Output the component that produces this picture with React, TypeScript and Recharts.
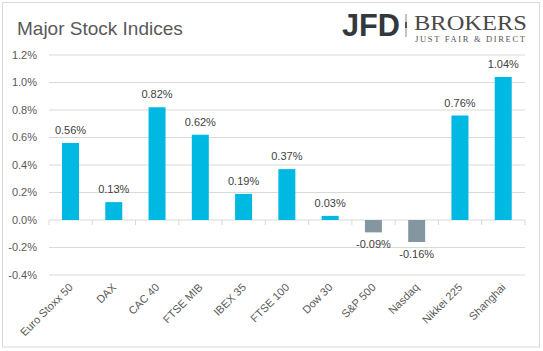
import { BarChart, Bar, XAxis, YAxis, CartesianGrid, Cell, LabelList } from "recharts"

const indices = [
  "Euro Stoxx 50",
  "DAX",
  "CAC 40",
  "FTSE MIB",
  "IBEX 35",
  "FTSE 100",
  "Dow 30",
  "S&P 500",
  "Nasdaq",
  "Nikkei 225",
  "Shanghai",
]
const changes = [0.56, 0.13, 0.82, 0.62, 0.19, 0.37, 0.03, -0.09, -0.16, 0.76, 1.04]
const yTicks = [-0.4, -0.2, 0, 0.2, 0.4, 0.6, 0.8, 1.0, 1.2]

const data = indices.map((name, i) => ({ name, change: changes[i] }))

const W = 543
const H = 351
const TOP = 55
const RIGHT = 18
const Y_AXIS_W = 49
const X_AXIS_H = 76
const Y_MIN = -0.4
const Y_MAX = 1.2

const PLOT_W = W - Y_AXIS_W - RIGHT
const PLOT_H = H - TOP - X_AXIS_H
const BAND = PLOT_W / indices.length
const ZERO_Y = TOP + (PLOT_H * Y_MAX) / (Y_MAX - Y_MIN)

const FONT = "'Liberation Sans', Arial, sans-serif"
const SERIF = "'Liberation Serif', serif"
const POS = "#00B9E3"
const NEG = "#8497A1"
const GRID = "#D9D9D9"

const pct = (v: number, d: number) => `${v.toFixed(d)}%`

// category label plus the little tick marks hanging off the zero line
function CategoryTick(props: any) {
  const { x, y, payload, index } = props
  const left = x - BAND / 2
  return (
    <g>
      <line x1={left} x2={left} y1={ZERO_Y} y2={ZERO_Y + 5} stroke={GRID} />
      {index === indices.length - 1 && (
        <line x1={left + BAND} x2={left + BAND} y1={ZERO_Y} y2={ZERO_Y + 5} stroke={GRID} />
      )}
      <text
        x={x + 3}
        y={y + 13}
        transform={`rotate(-45, ${x + 3}, ${y + 13})`}
        textAnchor="end"
        fontSize={11}
        fontFamily={FONT}
        fill="#595959"
      >
        {payload.value}
      </text>
    </g>
  )
}

function ValueLabel(props: any) {
  const { x, y, width, height, value } = props
  const cx = x + width / 2
  const top = Math.min(y, y + height)
  const bottom = Math.max(y, y + height)
  const ty = value >= 0 ? top - 9 : bottom + 16
  return (
    <text x={cx} y={ty} textAnchor="middle" fontSize={11} fontFamily={FONT} fill="#404040">
      {pct(value, 2)}
    </text>
  )
}

export default function App() {
  return (
    <div style={{ position: "absolute", left: 0, top: 0, width: W, height: H, background: "#fff" }}>
      <BarChart
        width={W}
        height={H}
        data={data}
        margin={{ top: TOP, right: RIGHT, bottom: 0, left: 0 }}
      >
        <CartesianGrid horizontal vertical={false} stroke={GRID} />
        <XAxis
          dataKey="name"
          interval={0}
          height={X_AXIS_H}
          tickLine={false}
          axisLine={false}
          tickSize={0}
          tickMargin={0}
          tick={<CategoryTick />}
        />
        <YAxis
          width={Y_AXIS_W}
          domain={[Y_MIN, Y_MAX]}
          ticks={yTicks}
          tickFormatter={(v: number) => pct(v, 1)}
          tickLine={false}
          axisLine={false}
          tickSize={0}
          tickMargin={12}
          tick={{ fontSize: 11, fontFamily: FONT, fill: "#595959" }}
        />
        <Bar dataKey="change" barSize={17} isAnimationActive={false}>
          {data.map((d) => (
            <Cell key={d.name} fill={d.change >= 0 ? POS : NEG} />
          ))}
          <LabelList dataKey="change" content={<ValueLabel />} />
        </Bar>
      </BarChart>
      <svg
        width={W}
        height={H}
        style={{ position: "absolute", left: 0, top: 0, pointerEvents: "none" }}
      >
        <rect x={2.5} y={2.5} width={537} height={344.5} fill="none" stroke={GRID} />
        <text x={17} y={35} fontSize={19} fontFamily={FONT} fill="#595959">
          Major Stock Indices
        </text>
        <text
          x={342}
          y={36}
          fontSize={31}
          fontWeight="bold"
          fontFamily={FONT}
          fill="#33383d"
          textLength={58}
          lengthAdjust="spacingAndGlyphs"
        >
          JFD
        </text>
        <line x1={406} x2={406} y1={14} y2={37} stroke="#8a8a8a" />
        <rect x={405} y={22} width={2} height={6} fill="#555" />
        <text
          x={414}
          y={30}
          fontSize={22}
          fontFamily={SERIF}
          fill="#4a4a4a"
          textLength={113}
          lengthAdjust="spacingAndGlyphs"
        >
          BROKERS
        </text>
        <text
          x={415}
          y={42}
          fontSize={8.5}
          fontFamily={SERIF}
          fill="#555"
          textLength={110}
          lengthAdjust="spacing"
        >
          JUST FAIR &amp; DIRECT
        </text>
      </svg>
    </div>
  )
}
